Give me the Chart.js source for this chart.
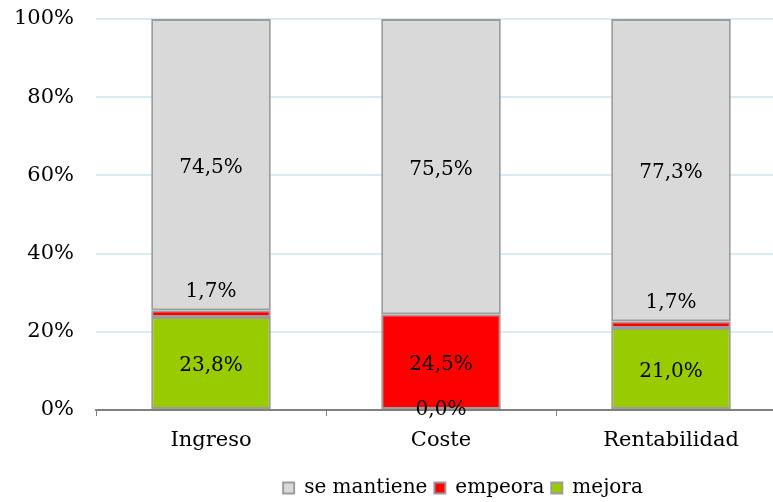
<!DOCTYPE html>
<html>
<head>
<meta charset="utf-8">
<script src="https://cdn.jsdelivr.net/npm/chart.js@4/dist/chart.umd.min.js"></script>
<style>
  html, body { margin: 0; padding: 0; background: #fff; overflow: hidden; }
  #wrap { position: relative; width: 790px; height: 502px; }
</style>
</head>
<body>
<div id="wrap"><canvas id="c"></canvas></div>
<script>
// Categories and the share (%) of answers in each group
const categories = ['Ingreso', 'Coste', 'Rentabilidad'];
const mejora     = [23.8, 0.0, 21.0];
const empeora    = [1.7, 24.5, 1.7];
const seMantiene = [74.5, 75.5, 77.3];
const yTicks     = [0, 20, 40, 60, 80, 100];

const FONT = 'DejaVu Serif';
const EDGE = '#9C9C9C';

const fmt = v => v.toFixed(1).replace('.', ',') + '%';

// Writes each segment's value in the middle of it; thin segments get it just above.
const valueLabels = {
  id: 'valueLabels',
  afterDatasetsDraw(chart) {
    const ctx = chart.ctx;
    ctx.save();
    ctx.font = '20px "' + FONT + '"';
    ctx.fillStyle = '#000';
    ctx.textAlign = 'center';
    ctx.textBaseline = 'middle';
    chart.data.datasets.forEach((ds, i) => {
      const meta = chart.getDatasetMeta(i);
      meta.data.forEach((el, j) => {
        const v = ds.data[j];
        let y = (el.y + el.base) / 2 + 3;
        if (v > 0 && v < 5) y = Math.min(el.y, el.base) - 18;
        if (v === 0) y = el.base;
        ctx.fillText(fmt(v), el.x, y);
      });
    });
    ctx.restore();
  }
};

// Places the legend row a bit right of the canvas centre, near the bottom edge.
const legendShift = {
  id: 'legendShift',
  afterLayout(chart) {
    const L = chart.legend;
    if (!L) return;
    const d = 463 - (L.left + L.right) / 2;
    L.left += d;
    L.right += d;
    const h = L.bottom - L.top;
    L.top = 471;
    L.bottom = 471 + h;
  }
};

new Chart(document.getElementById('c'), {
  type: 'bar',
  data: {
    labels: categories,
    datasets: [
      { label: 'mejora', data: mejora, backgroundColor: '#99CC00' },
      { label: 'empeora', data: empeora, backgroundColor: '#FF0000' },
      { label: 'se mantiene', data: seMantiene, backgroundColor: '#D9D9D9' }
    ].map(d => Object.assign(d, {
      borderColor: EDGE, borderWidth: 2, borderSkipped: false,
      barPercentage: 0.52, categoryPercentage: 1
    }))
  },
  plugins: [valueLabels, legendShift],
  options: {
    responsive: true,
    maintainAspectRatio: false,
    animation: false,
    layout: { padding: { top: 19, right: 4, left: 0, bottom: 0 } },
    plugins: {
      tooltip: { enabled: false },
      legend: {
        position: 'bottom',
        reverse: true,
        labels: {
          color: '#000',
          font: { family: FONT, size: 20 },
          boxWidth: 11, boxHeight: 11, padding: 7
        }
      }
    },
    scales: {
      x: {
        stacked: true,
        afterFit(s) { s.height = 55; },
        grid: { drawOnChartArea: false, drawTicks: true, tickLength: 6, color: '#808080', offset: true },
        border: { color: '#808080', width: 2 },
        ticks: { color: '#000', font: { family: FONT, size: 21 }, padding: 12 }
      },
      y: {
        stacked: true,
        min: 0, max: 100,
        afterBuildTicks(s) { s.ticks = yTicks.map(v => ({ value: v })); },
        afterFit(s) { s.width = 96; },
        grid: { color: '#D7ECF4', lineWidth: 2, drawTicks: true, tickLength: 22, tickColor: 'rgba(0,0,0,0)' },
        border: { display: false },
        ticks: {
          color: '#000', padding: 0,
          font: { family: FONT, size: 21 },
          callback: v => v + '%'
        }
      }
    }
  }
});
</script>
</body>
</html>
